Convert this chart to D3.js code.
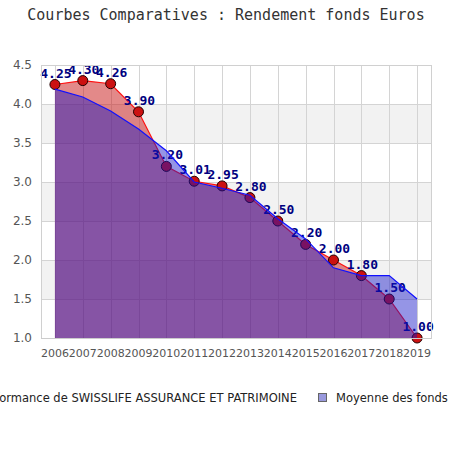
<!DOCTYPE html>
<html>
<head>
<meta charset="utf-8">
<script src="https://cdn.jsdelivr.net/npm/d3@7"></script>
<style>
  body { margin: 0; background: #fff; }
  svg { display: block; }
</style>
</head>
<body>
<div id="chart"></div>
<script>
// data
const years = ["2006", "2007", "2008", "2009", "2010", "2011", "2012", "2013", "2014", "2015", "2016", "2017", "2018", "2019"];
const perfValues = [4.25, 4.30, 4.26, 3.90, 3.20, 3.01, 2.95, 2.80, 2.50, 2.20, 2.00, 1.80, 1.50, 1.00];
const moyenneValues = [4.19, 4.09, 3.91, 3.68, 3.40, 3.00, 2.92, 2.83, 2.53, 2.27, 1.90, 1.80, 1.80, 1.50];
const yTicks = [1.0, 1.5, 2.0, 2.5, 3.0, 3.5, 4.0, 4.5];
const seriesNames = ["Performance de SWISSLIFE ASSURANCE ET PATRIMOINE", "Moyenne des fonds"];

const W = 450, H = 450;
const plot = { left: 41, right: 431, top: 65, bottom: 338 };

const svg = d3.select("#chart")
    .append("svg")
    .attr("width", W)
    .attr("height", H);

const x = d3.scalePoint()
    .domain(years)
    .range([plot.left, plot.right])
    .padding(0.5);

const y = d3.scaleLinear()
    .domain([1.0, 4.5])
    .range([plot.bottom, plot.top]);

// title
svg.append("text")
    .attr("x", 226)
    .attr("y", 20)
    .attr("text-anchor", "middle")
    .style("font-family", "'DejaVu Sans Mono', monospace")
    .style("font-size", "15px")
    .attr("fill", "#333")
    .text("Courbes Comparatives : Rendement fonds Euros");

// alternating background bands
const bands = [[3.5, 4.0], [2.5, 3.0], [1.5, 2.0]];
svg.selectAll(".band")
    .data(bands)
    .enter()
    .append("rect")
    .attr("x", plot.left)
    .attr("width", plot.right - plot.left)
    .attr("y", d => y(d[1]))
    .attr("height", d => y(d[0]) - y(d[1]))
    .attr("fill", "#f2f2f2");

// grid
svg.selectAll(".hgrid")
    .data(yTicks)
    .enter()
    .append("line")
    .attr("x1", plot.left).attr("x2", plot.right)
    .attr("y1", d => y(d) + 0.5).attr("y2", d => y(d) + 0.5)
    .attr("stroke", "#d4d4d4");

svg.selectAll(".vgrid")
    .data(years)
    .enter()
    .append("line")
    .attr("x1", d => Math.round(x(d)) + 0.5).attr("x2", d => Math.round(x(d)) + 0.5)
    .attr("y1", plot.top).attr("y2", plot.bottom)
    .attr("stroke", "#d4d4d4");

// y axis labels
svg.selectAll(".ylab")
    .data(yTicks)
    .enter()
    .append("text")
    .attr("x", 32)
    .attr("y", d => y(d) + 4)
    .attr("text-anchor", "end")
    .style("font-family", "'DejaVu Sans', sans-serif")
    .style("font-size", "12px")
    .attr("fill", "#555")
    .text(d => d.toFixed(1));

// x axis labels
svg.selectAll(".xlab")
    .data(years)
    .enter()
    .append("text")
    .attr("x", d => x(d))
    .attr("y", 357)
    .attr("text-anchor", "middle")
    .style("font-family", "'DejaVu Sans', sans-serif")
    .style("font-size", "11px")
    .attr("fill", "#555")
    .text(d => d);

const area = vals => d3.area()
    .x((d, i) => x(years[i]))
    .y0(y(1.0))
    .y1(d => y(d))(vals);

const line = vals => d3.line()
    .x((d, i) => x(years[i]))
    .y(d => y(d))(vals);

// performance series
svg.append("path")
    .attr("d", area(perfValues))
    .attr("fill", "rgba(200,20,20,0.5)");

svg.append("path")
    .attr("d", line(perfValues))
    .attr("fill", "none")
    .attr("stroke", "#ff1010")
    .attr("stroke-width", 1.2);

svg.selectAll(".pt")
    .data(perfValues)
    .enter()
    .append("circle")
    .attr("cx", (d, i) => x(years[i]))
    .attr("cy", d => y(d))
    .attr("r", 5)
    .attr("fill", "#cc1111")
    .attr("stroke", "#200")
    .attr("stroke-width", 1);

svg.selectAll(".vlab")
    .data(perfValues)
    .enter()
    .append("text")
    .attr("x", (d, i) => x(years[i]) + 1)
    .attr("y", d => y(d) - 7)
    .attr("text-anchor", "middle")
    .style("font-family", "'DejaVu Sans Mono', monospace")
    .style("font-size", "13px")
    .style("font-weight", "bold")
    .attr("fill", "#000080")
    .text(d => d.toFixed(2));

// moyenne series on top
svg.append("path")
    .attr("d", area(moyenneValues))
    .attr("fill", "rgba(20,20,200,0.45)");

svg.append("path")
    .attr("d", line(moyenneValues))
    .attr("fill", "none")
    .attr("stroke", "#1010ff")
    .attr("stroke-width", 1.2);

// plot frame
svg.append("rect")
    .attr("x", plot.left + 0.5)
    .attr("y", plot.top + 0.5)
    .attr("width", plot.right - plot.left)
    .attr("height", plot.bottom - plot.top)
    .attr("fill", "none")
    .attr("stroke", "#d0d0d0");

svg.append("line")
    .attr("x1", plot.left).attr("x2", plot.right)
    .attr("y1", plot.bottom + 0.5).attr("y2", plot.bottom + 0.5)
    .attr("stroke", "#ccc");

// legend (first entry runs off the left edge, as in the original)
const legend = svg.append("g");
const legendColors = ["#e08080", "#9999dd"];

legend.append("rect")
    .attr("x", -14.5).attr("y", 393.5)
    .attr("width", 8).attr("height", 8)
    .attr("fill", legendColors[0])
    .attr("stroke", "#666");

legend.append("text")
    .attr("x", 297)
    .attr("y", 402)
    .attr("text-anchor", "end")
    .style("font-family", "'DejaVu Sans', sans-serif")
    .style("font-size", "11.5px")
    .attr("fill", "#222")
    .text(seriesNames[0]);

legend.append("rect")
    .attr("x", 318.5).attr("y", 393.5)
    .attr("width", 8).attr("height", 8)
    .attr("fill", legendColors[1])
    .attr("stroke", "#666");

legend.append("text")
    .attr("x", 336)
    .attr("y", 402)
    .style("font-family", "'DejaVu Sans', sans-serif")
    .style("font-size", "11.5px")
    .attr("fill", "#222")
    .text(seriesNames[1]);
</script>
</body>
</html>
